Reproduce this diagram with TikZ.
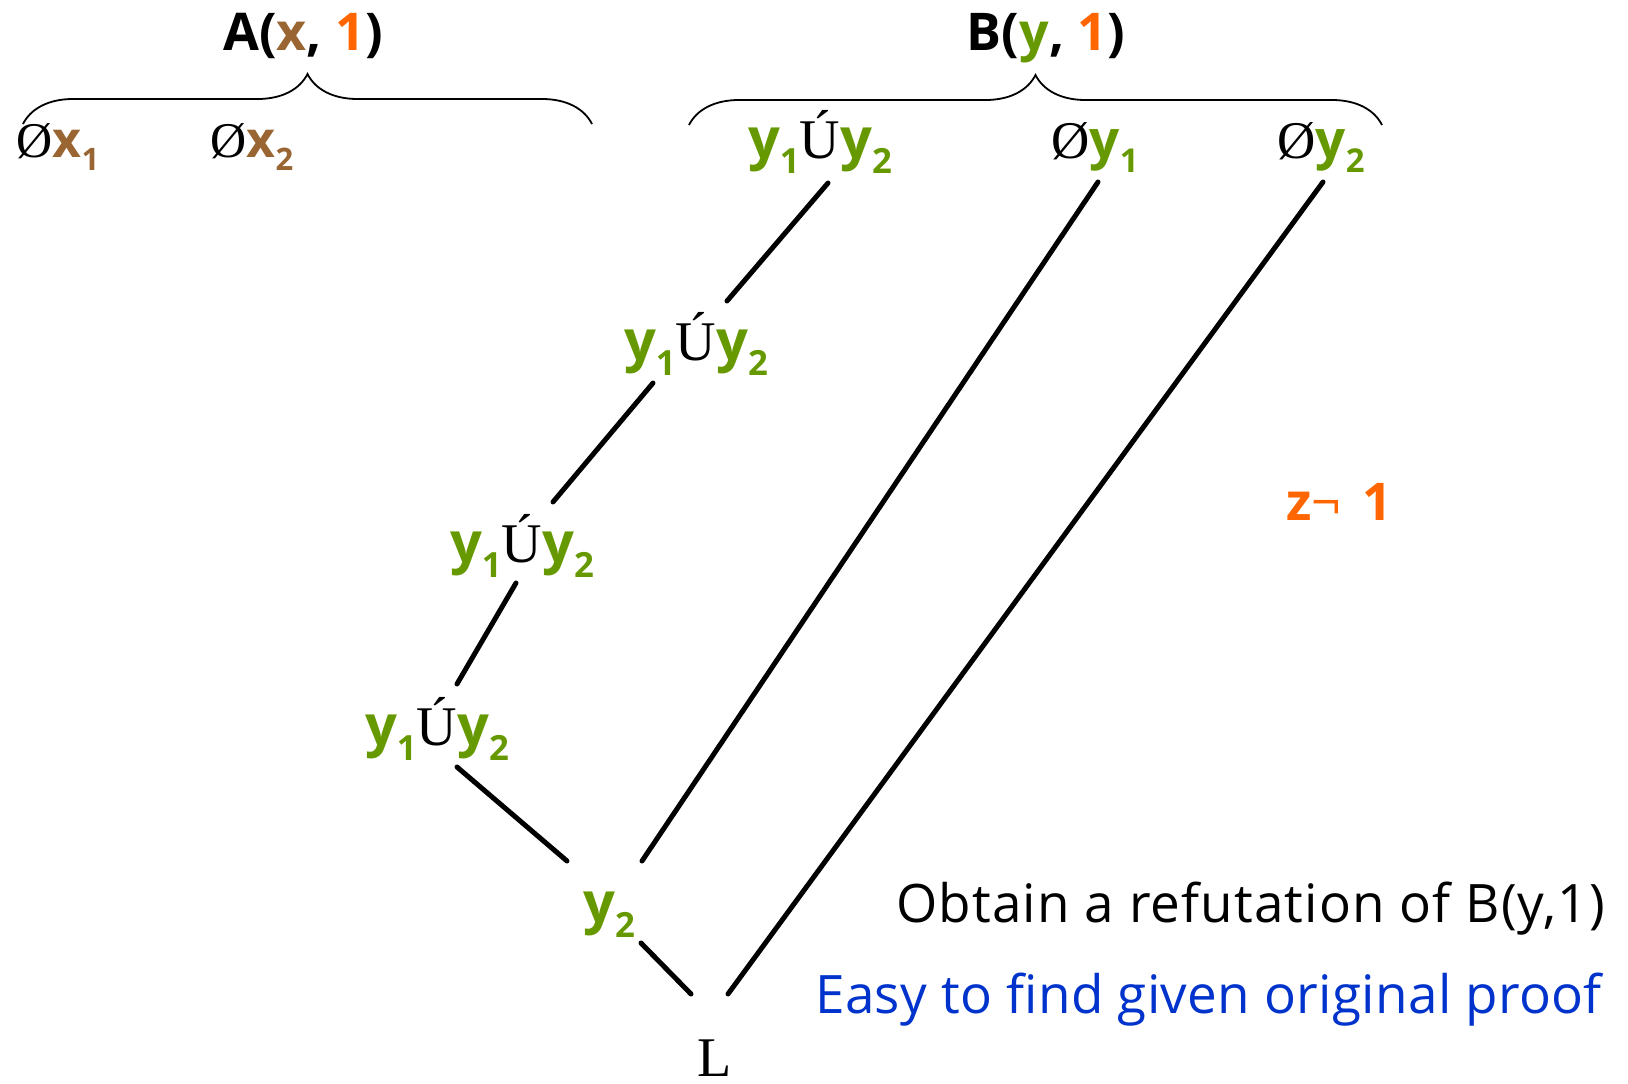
\documentclass[tikz,border=0pt]{standalone}
\usepackage{fontspec}
\setmainfont{Liberation Serif}
\newfontfamily\sansfont{Open Sans}
\newfontfamily\notefont[LetterSpace=2.1]{Open Sans}
\newfontfamily\hintfont[LetterSpace=0.6]{Open Sans}
\usetikzlibrary{decorations.pathreplacing}
\definecolor{VarGreen}{RGB}{102,153,0}
\definecolor{VarBrown}{RGB}{153,102,51}
\definecolor{ValOrange}{RGB}{255,102,0}
\definecolor{NoteBlue}{RGB}{0,51,204}

\makeatletter
\newcommand{\lsub}[1]{\raisebox{-0.27em}{\fontsize{\the\dimexpr0.62\dimexpr\f@size pt\relax\relax}{10pt}\selectfont #1}}
\makeatother
\newcommand{\litvar}[3]{\textcolor{#1}{#2\lsub{#3}}}
\newcommand{\vx}[1]{\litvar{VarBrown}{x}{#1}}
\newcommand{\vy}[1]{\litvar{VarGreen}{y}{#1}}
\newcommand{\nt}{{\rmfamily\mdseries Ø}}
\newcommand{\orsym}{{\rmfamily\mdseries Ú}}

\begin{document}
\begin{tikzpicture}[
    x=1pt, y=-1pt,
    title/.style={
        font=\sansfont\bfseries\fontsize{52}{56}\selectfont,
        inner sep=0pt, anchor=base
    },
    lit/.style={
        font=\sansfont\bfseries\fontsize{#1}{#1}\selectfont,
        inner sep=0pt, anchor=base
    },
    lit/.default=56,
    note/.style={
        font=\notefont\fontsize{53}{60}\selectfont,
        inner sep=0pt, anchor=base east
    },
    proofline/.style={line width=5pt, line cap=round},
    bracket/.style={
        decorate, decoration={brace, amplitude=50pt}, line width=1.8pt
    }
]
\useasboundingbox (0,0) rectangle (1628,1084);

% Clause heads
\node[title] (Ahead) at (303,50)
    {A(\textcolor{VarBrown}{x}, \textcolor{ValOrange}{1})};
\node[title] (Bhead) at (1046,50)
    {B(\textcolor{VarGreen}{y}, \textcolor{ValOrange}{1})};

% Braces
\draw[bracket] (23,124) -- (592,124);
\draw[bracket] (689,125) -- (1382,125);

% Clauses of A
\node[lit=50] (nx1) at (58,157) {\nt\vx{1}};
\node[lit=50] (nx2) at (252,157) {\nt\vx{2}};

% Clauses of B
\node[lit] (c0) at (820,158) {\vy{1}\orsym\vy{2}};
\node[lit=53] (ny1) at (1095,158) {\nt\vy{1}};
\node[lit=53] (ny2) at (1321,158) {\nt\vy{2}};

% Derivation
\node[lit] (c1) at (696,360) {\vy{1}\orsym\vy{2}};
\node[lit] (c2) at (522,562) {\vy{1}\orsym\vy{2}};
\node[lit] (c3) at (437,745) {\vy{1}\orsym\vy{2}};
\node[lit] (cy) at (609,922) {\vy{2}};
\node[font=\fontsize{56}{60}\selectfont, inner sep=0pt, anchor=base]
    (bot) at (715,1076) {L};

% Notes
\node[lit=52, text=ValOrange] (zne) at (1339,520)
    {z{\mdseries¬}\hspace{0.4em}1};
\node[note] (obtain) at (1605,922) {Obtain a refutation of B(y,1)};
\node[note, font=\hintfont\fontsize{53}{60}\selectfont, text=NoteBlue]
    (easy) at (1602,1013) {Easy to find given original proof};

% Resolution steps
\foreach \a/\ax/\ay/\b/\bx/\by in {c0/8/25/c1/31/-59, c1/-43/23/c2/31/-60,
        c2/-6/21/c3/20/-61, c3/20/22/cy/-42/-61, ny1/3/24/cy/33/-61,
        cy/32/21/bot/-24/-82, ny2/2/24/bot/13/-82} {
    \draw[proofline]
        ([shift={(\ax,\ay)}]\a.base) -- ([shift={(\bx,\by)}]\b.base);
}

\end{tikzpicture}
\end{document}
